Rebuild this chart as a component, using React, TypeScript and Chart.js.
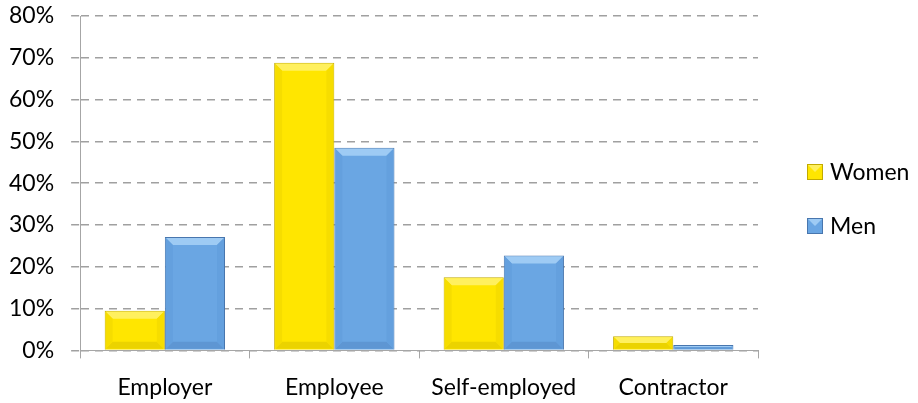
import React, { useEffect, useRef } from "react";
import { Chart, registerables } from "chart.js";

Chart.register(...registerables);

const categories = ["Employer", "Employee", "Self-employed", "Contractor"];
const women = [9.5, 68.8, 17.5, 3.4];
const men = [27.1, 48.5, 22.7, 1.3];
const yTicks = [0, 10, 20, 30, 40, 50, 60, 70, 80];

const FONT = "Lato, Calibri, sans-serif";

const bevels = [
  { top: "#FFF05E", bottom: "#EBD300", side: "#F6DD00" },
  { top: "#9ECBF4", bottom: "#5E96D3", side: "#64A0DE" },
];

const bevelPlugin = {
  id: "bevel",
  afterDatasetsDraw(chart: any) {
    const ctx = chart.ctx;
    chart.data.datasets.forEach((_ds: any, di: number) => {
      const meta = chart.getDatasetMeta(di);
      const c = bevels[di];
      meta.data.forEach((bar: any) => {
        const p = bar.getProps(["x", "y", "base", "width"], true);
        const l = p.x - p.width / 2 + 1;
        const r = p.x + p.width / 2 - 1;
        const t = p.y + 1;
        const b = p.base - 1;
        const h = b - t;
        if (h <= 2) return;
        const s = Math.min(7, h / 2);
        ctx.save();
        ctx.fillStyle = c.top;
        ctx.beginPath();
        ctx.moveTo(l, t); ctx.lineTo(r, t); ctx.lineTo(r - s, t + s); ctx.lineTo(l + s, t + s); ctx.closePath();
        ctx.fill();
        ctx.fillStyle = c.bottom;
        ctx.beginPath();
        ctx.moveTo(l, b); ctx.lineTo(r, b); ctx.lineTo(r - s, b - s); ctx.lineTo(l + s, b - s); ctx.closePath();
        ctx.fill();
        ctx.fillStyle = c.side;
        ctx.beginPath();
        ctx.moveTo(l, t); ctx.lineTo(l + s, t + s); ctx.lineTo(l + s, b - s); ctx.lineTo(l, b); ctx.closePath();
        ctx.fill();
        ctx.beginPath();
        ctx.moveTo(r, t); ctx.lineTo(r - s, t + s); ctx.lineTo(r - s, b - s); ctx.lineTo(r, b); ctx.closePath();
        ctx.fill();
        ctx.restore();
      });
    });
  },
};

const legendPlugin = {
  id: "sideLegend",
  afterDraw(chart: any) {
    const ctx = chart.ctx;
    const x0 = 807;
    const yStart = 172;
    const step = 54;
    ctx.save();
    ctx.font = `23px ${FONT}`;
    ctx.textBaseline = "middle";
    chart.data.datasets.forEach((ds: any, i: number) => {
      const y = yStart + i * step;
      ctx.fillStyle = ds.backgroundColor;
      ctx.fillRect(x0, y - 8, 16, 16);
      ctx.fillStyle = bevels[i].top;
      ctx.beginPath();
      ctx.moveTo(x0, y - 8); ctx.lineTo(x0 + 16, y - 8); ctx.lineTo(x0 + 8, y); ctx.closePath();
      ctx.fill();
      ctx.strokeStyle = ds.borderColor;
      ctx.lineWidth = 1;
      ctx.strokeRect(x0 + 0.5, y - 7.5, 15, 15);
      ctx.fillStyle = "#000";
      ctx.fillText(ds.label, x0 + 23, y + 1);
    });
    ctx.restore();
  },
};

export default function App() {
  const ref = useRef<HTMLCanvasElement | null>(null);
  useEffect(() => {
    document.body.style.margin = "0";
    const ctx = ref.current!.getContext("2d")!;
    const chart = new Chart(ctx, {
      type: "bar",
      data: {
        labels: categories,
        datasets: [
          {
            label: "Women",
            data: women,
            backgroundColor: "#FFE600",
            borderColor: "#C2AA00",
            borderWidth: 1,
            categoryPercentage: 0.71,
            barPercentage: 1,
          },
          {
            label: "Men",
            data: men,
            backgroundColor: "#6AA6E3",
            borderColor: "#4876AE",
            borderWidth: 1,
            categoryPercentage: 0.71,
            barPercentage: 1,
          },
        ],
      },
      plugins: [bevelPlugin, legendPlugin],
      options: {
        animation: false,
        responsive: false,
        maintainAspectRatio: false,
        layout: { padding: { left: -8, top: 16, bottom: -13, right: 160 } },
        plugins: {
          tooltip: { enabled: false },
          legend: { display: false },
        },
        scales: {
          x: {
            grid: {
              offset: true,
              drawOnChartArea: false,
              drawTicks: true,
              tickLength: 8,
              color: "#A6A6A6",
            },
            border: { color: "#A6A6A6", width: 1 },
            ticks: {
              color: "#000",
              padding: 15,
              font: { family: FONT, size: 23 },
            },
          },
          y: {
            min: 0,
            max: 80,
            afterBuildTicks: (axis: any) => {
              axis.ticks = yTicks.map((v) => ({ value: v }));
            },
            afterFit: (scale: any) => {
              scale.paddingTop = 0;
              scale.paddingBottom = 0;
            },
            grid: {
              color: "#A0A0A0",
              lineWidth: 1.5,
              tickLength: 9,
              tickBorderDash: [8, 6],
            },
            border: { color: "#A6A6A6", width: 1, dash: [8, 6] },
            ticks: {
              color: "#000",
              padding: 17,
              callback: (v: any) => `${v}%`,
              font: { family: FONT, size: 23 },
            },
          },
        },
      },
    });
    return () => chart.destroy();
  }, []);
  return (
    <div style={{ width: 918, height: 403 }}>
      <canvas ref={ref} width={918} height={403} style={{ display: "block" }} />
    </div>
  );
}
